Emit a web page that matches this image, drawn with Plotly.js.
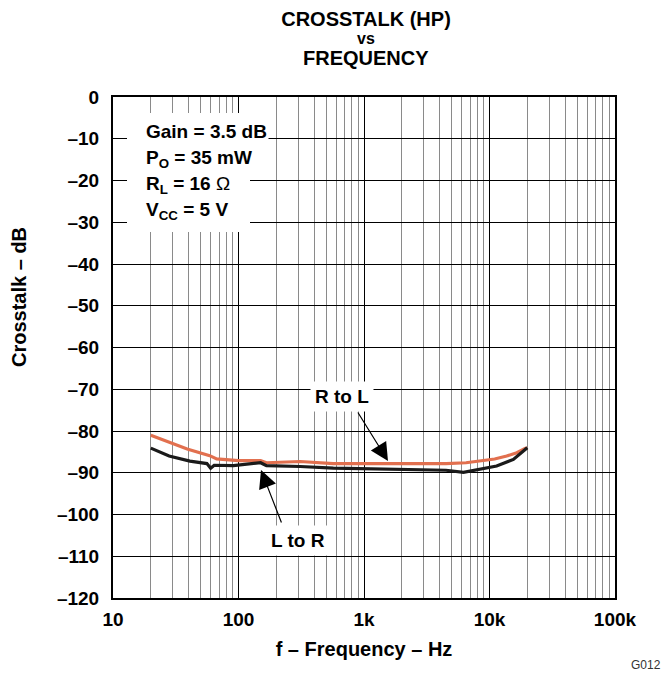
<!DOCTYPE html>
<html>
<head>
<meta charset="utf-8">
<script src="https://cdn.plot.ly/plotly-3.0.1.min.js"></script>
<style>html,body{margin:0;padding:0;background:#fff;}#chart{width:665px;height:675px;}</style>
</head>
<body>
<div id="chart"></div>
<script>
// ---- data ----
var freqRtoL = [20, 27, 39, 59, 67, 100, 150, 167, 310, 570, 1000, 1900, 3000, 4500, 6500, 8400, 11000, 13700, 16500, 19200, 20000];
var dbRtoL   = [-81.0, -82.4, -84.3, -85.9, -86.7, -87.1, -87.1, -87.6, -87.3, -87.8, -87.8, -87.9, -87.9, -87.8, -87.6, -87.2, -86.7, -86.0, -85.2, -84.2, -84.0];
var freqLtoR = [20, 28, 41, 56, 60, 64, 91, 131, 150, 167, 310, 570, 1000, 1900, 3000, 4500, 6200, 8400, 11400, 15500, 19200, 20000];
var dbLtoR   = [-84.1, -86.0, -87.2, -87.8, -88.9, -88.2, -88.3, -87.9, -87.6, -88.3, -88.5, -88.9, -89.0, -89.2, -89.3, -89.4, -89.9, -89.2, -88.4, -86.8, -84.3, -84.0];
var xTickVals = [10, 100, 1000, 10000, 100000];
var xTickText = ["10", "100", "1k", "10k", "100k"];
var yTickVals = [0, -10, -20, -30, -40, -50, -60, -70, -80, -90, -100, -110, -120];
var yTickText = ["0", "–10", "–20", "–30", "–40", "–50", "–60", "–70", "–80", "–90", "–100", "–110", "–120"];

var minorVals = [];
[10, 100, 1000, 10000].forEach(function (d) { for (var k = 2; k <= 9; k++) minorVals.push(d * k); });

var FONT = "Liberation Sans, Arial, sans-serif";
var TICKF = {family: FONT, size: 19, color: "#000", weight: "bold"};
function F(s) { return {family: FONT, size: s, color: "#000"}; }

var traces = [
  {x: freqRtoL, y: dbRtoL, type: "scatter", mode: "lines", name: "R to L",
   line: {color: "#E2704F", width: 3.2}, hoverinfo: "skip"},
  {x: freqLtoR, y: dbLtoR, type: "scatter", mode: "lines", name: "L to R",
   line: {color: "#1a1a1a", width: 3.2}, hoverinfo: "skip"}
];

function px2x(px) { return (px - 113) / 502; }
function py2y(py) { return (598 - py) / 501; }

var layout = {
  width: 665, height: 675,
  margin: {l: 113, r: 50, t: 97, b: 77},
  paper_bgcolor: "#fff", plot_bgcolor: "#fff",
  showlegend: false,
  title: {
    text: "<b>CROSSTALK (HP)</b>",
    font: F(20),
    x: 366 / 665, xanchor: "center", xref: "container",
    y: 1 - 19 / 675, yanchor: "middle", yref: "container"
  },
  xaxis: {
    type: "log", range: [1, 5],
    tickvals: xTickVals, ticktext: xTickText,
    tickfont: TICKF, ticks: "", ticklabelstandoff: 3,
    showgrid: true, gridcolor: "#000", gridwidth: 1,
    minor: {tickvals: minorVals, showgrid: true, gridcolor: "#8a8a8a", gridwidth: 1, ticks: ""},
    showline: true, linecolor: "#000", linewidth: 2, mirror: true,
    zeroline: false,
    title: {text: "<b>f – Frequency – Hz</b>", font: F(20), standoff: 13}
  },
  yaxis: {
    range: [-120, 0],
    tickvals: yTickVals, ticktext: yTickText,
    tickfont: TICKF, ticks: "", ticklabelstandoff: 8,
    showgrid: true, gridcolor: "#000", gridwidth: 1,
    showline: true, linecolor: "#000", linewidth: 2, mirror: true,
    zeroline: false,
    title: {text: ""}
  },
  shapes: [
    {type: "rect", xref: "paper", yref: "paper", layer: "above",
     x0: px2x(127), x1: px2x(250), y0: py2y(232), y1: py2y(113),
     fillcolor: "#fff", line: {width: 0}}
  ],
  annotations: [
    {xref: "paper", yref: "paper", x: px2x(366), y: py2y(38), text: "<b>vs</b>",
     showarrow: false, xanchor: "center", yanchor: "middle", font: F(16)},
    {xref: "paper", yref: "paper", x: px2x(366), y: py2y(58), text: "<b>FREQUENCY</b>",
     showarrow: false, xanchor: "center", yanchor: "middle", font: F(20)},
    {xref: "paper", yref: "paper", x: px2x(19), y: py2y(297), text: "<b>Crosstalk – dB</b>",
     textangle: -90, showarrow: false, font: F(20), xanchor: "center", yanchor: "middle"},
    {xref: "paper", yref: "paper", x: px2x(144), y: py2y(131), text: "<b>Gain = 3.5 dB</b>",
     showarrow: false, xanchor: "left", yanchor: "middle", font: F(19), bgcolor: "#fff", borderpad: 1},
    {xref: "paper", yref: "paper", x: px2x(144), y: py2y(159), text: "<b>P<sub>O</sub> = 35 mW</b>",
     showarrow: false, xanchor: "left", yanchor: "middle", font: F(19)},
    {xref: "paper", yref: "paper", x: px2x(144), y: py2y(185), text: "<b>R<sub>L</sub> = 16 </b>Ω",
     showarrow: false, xanchor: "left", yanchor: "middle", font: F(19)},
    {xref: "paper", yref: "paper", x: px2x(144), y: py2y(211), text: "<b>V<sub>CC</sub> = 5 V</b>",
     showarrow: false, xanchor: "left", yanchor: "middle", font: F(19)},
    // arrows
    {xref: "paper", yref: "paper", x: px2x(388), y: py2y(461), ax: -31, ay: -50, text: "",
     showarrow: true, arrowhead: 2, arrowsize: 3, arrowwidth: 1.2, arrowcolor: "#000"},
    {xref: "paper", yref: "paper", x: px2x(261), y: py2y(470), ax: 21, ay: 54, text: "",
     showarrow: true, arrowhead: 2, arrowsize: 3, arrowwidth: 1.2, arrowcolor: "#000"},
    {xref: "paper", yref: "paper", x: px2x(342), y: py2y(396), text: "<b>R to L</b>",
     showarrow: false, xanchor: "center", yanchor: "middle", font: F(19), bgcolor: "#fff", borderpad: 4},
    {xref: "paper", yref: "paper", x: px2x(298), y: py2y(540), text: "<b>L to R</b>",
     showarrow: false, xanchor: "center", yanchor: "middle", font: F(19), bgcolor: "#fff", borderpad: 4},
    {xref: "paper", yref: "paper", x: px2x(646), y: py2y(665), text: "G012",
     showarrow: false, xanchor: "center", yanchor: "middle", font: {family: FONT, size: 12, color: "#333"}}
  ]
};

Plotly.newPlot("chart", traces, layout, {staticPlot: true, displayModeBar: false});
</script>
</body>
</html>
